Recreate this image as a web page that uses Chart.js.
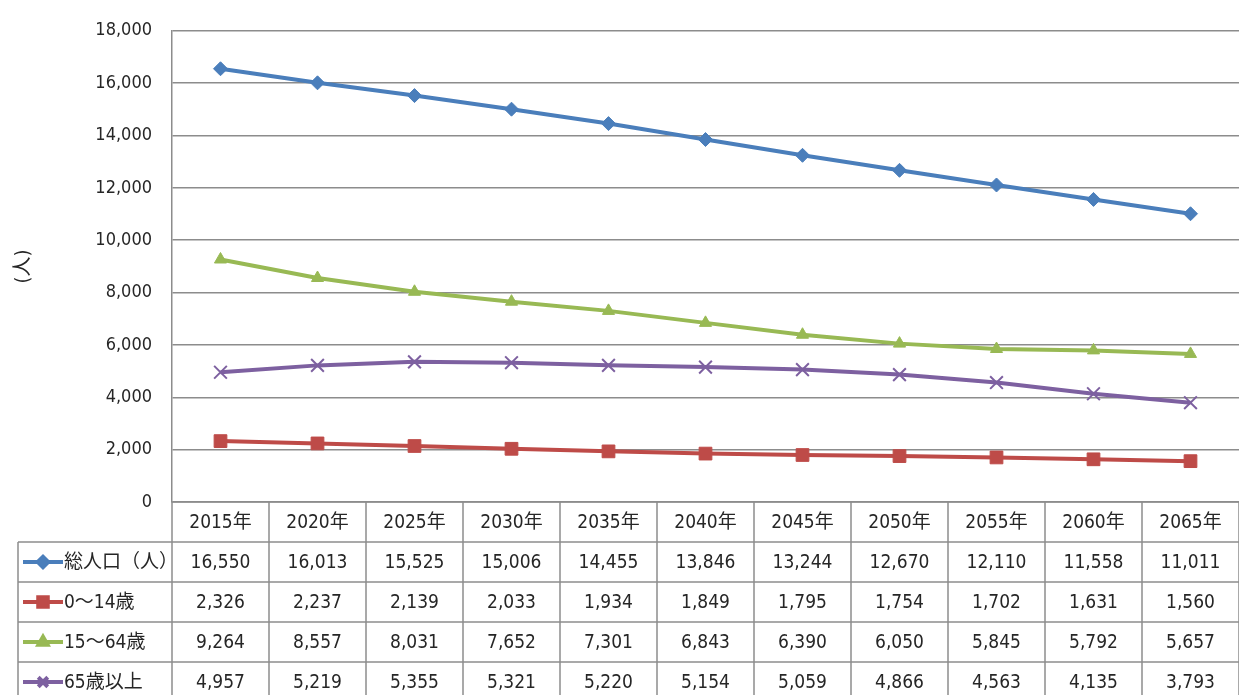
<!DOCTYPE html>
<html>
<head>
<meta charset="utf-8">
<script src="https://cdn.jsdelivr.net/npm/chart.js@4/dist/chart.umd.min.js"></script>
<style>
  html, body { margin: 0; padding: 0; background: #fff; overflow: hidden; }
  #wrap { width: 1250px; height: 705px; }
</style>
</head>
<body>
<div id="wrap"><canvas id="popChart"></canvas></div>
<script>
const years = ['2015年', '2020年', '2025年', '2030年', '2035年', '2040年', '2045年', '2050年', '2055年', '2060年', '2065年'];
const totalPop = [16550, 16013, 15525, 15006, 14455, 13846, 13244, 12670, 12110, 11558, 11011];
const age0to14 = [2326, 2237, 2139, 2033, 1934, 1849, 1795, 1754, 1702, 1631, 1560];
const age15to64 = [9264, 8557, 8031, 7652, 7301, 6843, 6390, 6050, 5845, 5792, 5657];
const age65plus = [4957, 5219, 5355, 5321, 5220, 5154, 5059, 4866, 4563, 4135, 3793];
const seriesNames = ['総人口（人）', '0～14歳', '15～64歳', '65歳以上'];
const yTicks = [0, 2000, 4000, 6000, 8000, 10000, 12000, 14000, 16000, 18000];

const FONT = '"Liberation Sans Narrow", "DejaVu Sans Condensed", "Noto Sans CJK JP", sans-serif';
const GRID = '#8c8c8c';

// draws the data table below the plot, column edges come from the x scale
const dataTable = {
    id: 'dataTable',
    afterDraw(chart) {
        const ctx = chart.ctx;
        const xs = chart.scales.x;
        const area = chart.chartArea;
        const colW = (area.right - area.left) / years.length;
        const rowH = 40;
        const top = area.bottom;
        const labelLeft = 18;

        ctx.save();
        ctx.strokeStyle = GRID;
        ctx.lineWidth = 1.5;

        // horizontal lines
        for (let r = 0; r <= years.length && r <= chart.data.datasets.length + 1; r++) {
            const y = top + r * rowH;
            ctx.beginPath();
            ctx.moveTo(r === 0 ? area.left : labelLeft, y);
            ctx.lineTo(area.right, y);
            ctx.stroke();
        }
        // vertical lines
        const bottom = top + (chart.data.datasets.length + 1) * rowH;
        ctx.beginPath();
        ctx.moveTo(labelLeft, top + rowH);
        ctx.lineTo(labelLeft, bottom);
        ctx.stroke();
        for (let i = 0; i <= years.length; i++) {
            const x = area.left + i * colW;
            ctx.beginPath();
            ctx.moveTo(x, top);
            ctx.lineTo(x, bottom);
            ctx.stroke();
        }

        ctx.fillStyle = '#262626';
        ctx.font = '19px ' + FONT;
        ctx.textAlign = 'center';
        ctx.textBaseline = 'middle';
        years.forEach((yr, i) => {
            ctx.fillText(yr, xs.getPixelForValue(i), top + rowH / 2 + 1);
        });

        chart.data.datasets.forEach((ds, r) => {
            const cy = top + (r + 1) * rowH + rowH / 2 + 1;
            ds.data.forEach((v, i) => {
                ctx.fillText(v.toLocaleString('en-US'), xs.getPixelForValue(i), cy);
            });

            // legend key: line with marker
            ctx.strokeStyle = ds.borderColor;
            ctx.lineWidth = 4;
            ctx.beginPath();
            ctx.moveTo(23, cy - 1);
            ctx.lineTo(63, cy - 1);
            ctx.stroke();
            Chart.helpers.drawPoint(ctx, {
                pointStyle: ds.pointStyle,
                radius: ds.pointRadius * 0.75,
                borderWidth: ds.pointBorderWidth
            }, 43, cy - 1);
            ctx.fillStyle = ds.borderColor;
            ctx.fill();

            ctx.fillStyle = '#262626';
            ctx.textAlign = 'left';
            ctx.fillText(ds.label, 64, cy);
            ctx.textAlign = 'center';
            ctx.strokeStyle = GRID;
            ctx.lineWidth = 1.5;
        });
        ctx.restore();
    }
};

function series(label, data, color, style, radius, bw) {
    return {
        label: label,
        data: data,
        borderColor: color,
        backgroundColor: color,
        borderWidth: 4,
        pointStyle: style,
        pointRadius: radius,
        pointHoverRadius: radius,
        pointBackgroundColor: color,
        pointBorderColor: color,
        pointBorderWidth: bw,
        tension: 0
    };
}

new Chart(document.getElementById('popChart'), {
    type: 'line',
    data: {
        labels: years,
        datasets: [
            series(seriesNames[0], totalPop, '#4a7ebb', 'rectRot', 7, 1),
            series(seriesNames[1], age0to14, '#be4b48', 'rect', 9, 1),
            series(seriesNames[2], age15to64, '#98b954', 'triangle', 7, 1),
            series(seriesNames[3], age65plus, '#7d60a0', 'crossRot', 9, 2)
        ]
    },
    options: {
        responsive: true,
        maintainAspectRatio: false,
        animation: false,
        layout: { padding: { top: 28, right: 4, bottom: 203, left: 0 } },
        plugins: {
            legend: { display: false },
            tooltip: { enabled: false }
        },
        scales: {
            x: { display: false, offset: true },
            y: {
                min: 0,
                max: 18000,
                afterFit(scale) { scale.width = 172; },
                afterBuildTicks(scale) { scale.ticks = yTicks.map(v => ({ value: v })); },
                ticks: {
                    padding: 20,
                    color: '#262626',
                    font: { family: FONT, size: 18 },
                    callback: v => v.toLocaleString('en-US')
                },
                grid: { color: GRID, lineWidth: 1.5, drawTicks: false },
                border: { color: GRID, width: 1.5 },
                title: {
                    display: true,
                    text: '(人)',
                    color: '#262626',
                    font: { family: FONT, size: 20 },
                    padding: { top: 12, bottom: 0 }
                }
            }
        }
    },
    plugins: [dataTable]
});
</script>
</body>
</html>
